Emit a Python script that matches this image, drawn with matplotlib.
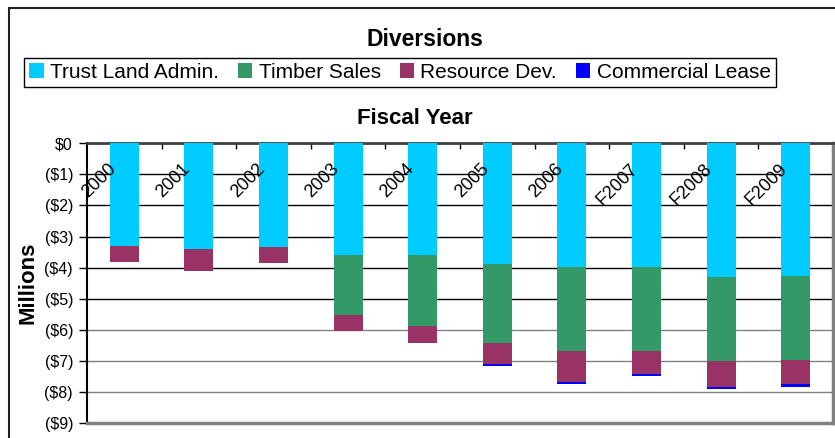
import matplotlib
matplotlib.use('Agg')
import matplotlib.pyplot as plt
from matplotlib.patches import Patch, Rectangle
import numpy as np

plt.rcParams['font.family'] = ['Liberation Sans', 'DejaVu Sans']

# data (millions of dollars, diverted -> drawn as negative)
years = ['2000', '2001', '2002', '2003', '2004', '2005', '2006', 'F2007', 'F2008', 'F2009']
trust_land = [3.30, 3.40, 3.34, 3.59, 3.59, 3.88, 3.98, 3.98, 4.30, 4.27]
timber_sales = [0, 0, 0, 1.93, 2.28, 2.54, 2.70, 2.70, 2.72, 2.69]
resource_dev = [0.51, 0.70, 0.50, 0.51, 0.54, 0.68, 1.00, 0.74, 0.82, 0.78]
commercial = [0, 0, 0, 0, 0, 0.08, 0.08, 0.08, 0.08, 0.09]

series = [('Trust Land Admin.', trust_land, '#00CCFF'),
          ('Timber Sales', timber_sales, '#339966'),
          ('Resource Dev.', resource_dev, '#993366'),
          ('Commercial Lease', commercial, '#0000FF')]

W, H = 835, 438
fig = plt.figure(figsize=(W / 100, H / 100), dpi=100)
ax = fig.add_axes([87 / W, 1 - 423 / H, (833 - 87) / W, (423 - 143.3) / H])

# outer chart border
fig.patches.append(Rectangle((9 / W, -0.05), 1.2, 1 - 8 / H + 0.05, transform=fig.transFigure,
                             fill=False, edgecolor='#202020', linewidth=1.5))

x = np.arange(len(years))
bottom = np.zeros(len(years))
for name, vals, col in series:
    v = -np.array(vals)
    ax.bar(x, v, width=0.39, bottom=bottom, color=col, zorder=3)
    bottom = bottom + v

ax.set_xlim(-0.5, len(years) - 0.5)
ax.set_ylim(-9, 0)
yt = np.arange(0, -10, -1)
ax.set_yticks(yt)
ax.set_yticklabels(['$0' if t == 0 else '(${})'.format(-t) for t in yt], fontsize=11.5)
ax.tick_params(axis='y', direction='out', length=6, width=1, pad=4, colors='black')

# category axis at the top with tick marks between categories
ax.xaxis.tick_top()
ax.set_xticks(x[:-1] + 0.5)
ax.set_xticklabels([])
ax.tick_params(axis='x', direction='in', length=4, width=1, top=True)

for i, lab in enumerate(years):
    ax.text(i - 0.07, -0.55, lab, rotation=45, ha='right', va='top', fontsize=13, zorder=4)

ax.yaxis.grid(True, zorder=0)
for t, gl in zip(yt, ax.get_ygridlines()):
    gl.set_color('black' if t >= -5 else '#808080')
    gl.set_linewidth(1)

for s in ['right', 'bottom']:
    ax.spines[s].set_color('#808080')
    ax.spines[s].set_linewidth(2.5)
ax.spines['top'].set_color('#404040')
ax.spines['top'].set_linewidth(2)
ax.spines['left'].set_color('black')
ax.spines['left'].set_linewidth(1.5)

ax.set_ylabel('Millions', fontsize=16, fontweight='bold', labelpad=4)

fig.text(425 / W, 1 - 40 / H, 'Diversions', ha='center', va='center', fontsize=16.5, fontweight='bold')
fig.text(415 / W, 1 - 119 / H, 'Fiscal Year', ha='center', va='center', fontsize=16, fontweight='bold')

handles = [Patch(facecolor=c, edgecolor='none', label=n) for n, _, c in series]
leg = fig.legend(handles=handles, loc='center', bbox_to_anchor=(400 / W, 1 - 72.5 / H), ncol=4,
                 fontsize=15, handlelength=0.7, handleheight=0.7, handletextpad=0.3,
                 columnspacing=0.9, borderpad=0.25, borderaxespad=0, fancybox=False,
                 edgecolor='black', framealpha=1)
leg.get_frame().set_linewidth(1)

fig.savefig('out.png', dpi=100)
